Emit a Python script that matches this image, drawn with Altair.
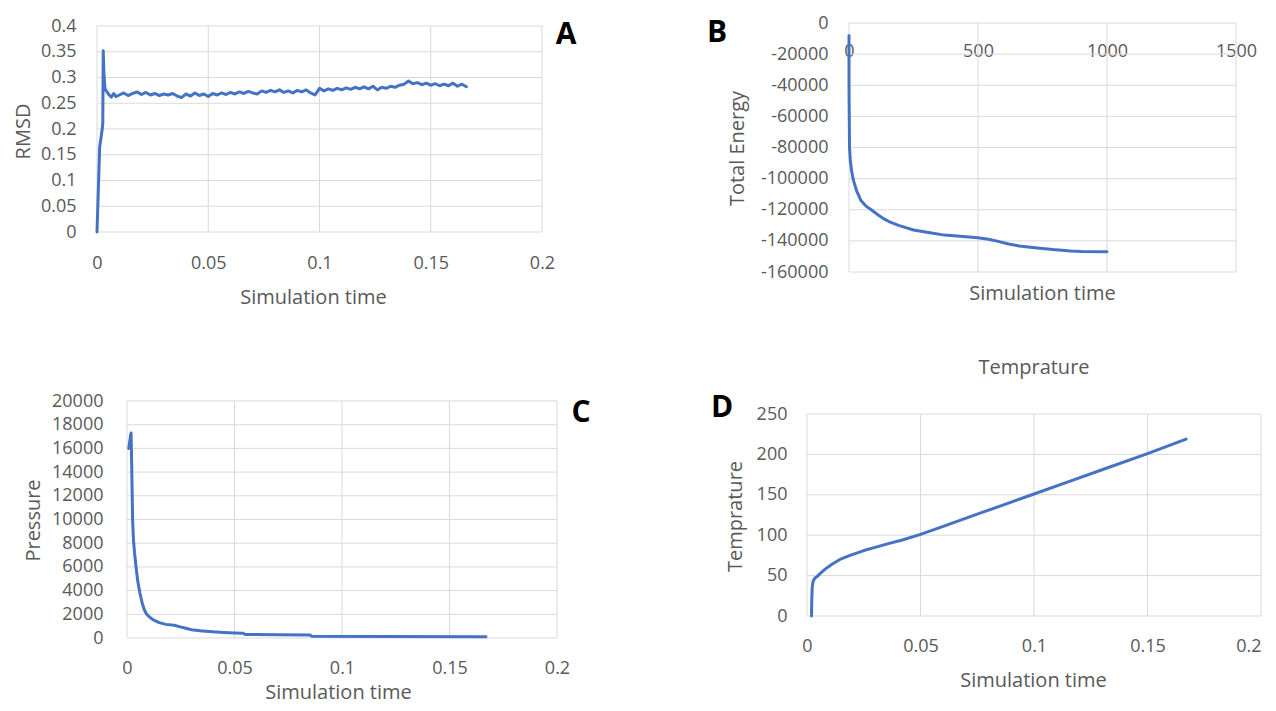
import altair as alt
import pandas as pd

# ---------------- data ----------------
# Panel A: RMSD
a_time = [0, 0.0012, 0.0022, 0.0026, 0.0028, 0.0031, 0.0036, 0.0045, 0.0055, 0.0065, 0.0075, 0.0085,
          0.010, 0.012, 0.014, 0.016, 0.018, 0.020, 0.022, 0.024, 0.026, 0.028,
          0.030, 0.032, 0.034, 0.036, 0.038, 0.040, 0.042, 0.044, 0.046, 0.048,
          0.050, 0.052, 0.054, 0.056, 0.058, 0.060, 0.062, 0.064, 0.066, 0.068,
          0.070, 0.072, 0.074, 0.076, 0.078, 0.080, 0.082, 0.084, 0.086, 0.088,
          0.090, 0.092, 0.094, 0.096, 0.098, 0.100, 0.102, 0.104, 0.106, 0.108,
          0.110, 0.112, 0.114, 0.116, 0.118, 0.120, 0.122, 0.124, 0.126, 0.128,
          0.130, 0.132, 0.134, 0.136, 0.138, 0.140, 0.142, 0.144, 0.146, 0.148,
          0.150, 0.152, 0.154, 0.156, 0.158, 0.160, 0.162, 0.164, 0.166]
a_rmsd = [0, 0.165, 0.195, 0.21, 0.352, 0.31, 0.278, 0.272, 0.266, 0.262, 0.269, 0.263,
          0.266, 0.270, 0.265, 0.269, 0.272, 0.267, 0.271, 0.266, 0.269, 0.265,
          0.268, 0.266, 0.269, 0.264, 0.261, 0.268, 0.264, 0.270, 0.265, 0.268,
          0.263, 0.269, 0.266, 0.270, 0.267, 0.271, 0.268, 0.272, 0.269, 0.273,
          0.270, 0.268, 0.274, 0.271, 0.275, 0.272, 0.276, 0.271, 0.274, 0.270,
          0.275, 0.272, 0.276, 0.270, 0.266, 0.279, 0.274, 0.278, 0.275, 0.279,
          0.276, 0.280, 0.277, 0.281, 0.278, 0.282, 0.278, 0.283, 0.276, 0.281,
          0.279, 0.283, 0.281, 0.285, 0.287, 0.293, 0.288, 0.290, 0.286, 0.289,
          0.285, 0.288, 0.284, 0.287, 0.284, 0.289, 0.283, 0.287, 0.282]

# Panel B: Total energy
b_time = [0, 0, 2, 5, 10, 17, 30, 46, 65, 90, 110, 134, 160, 192, 220, 250, 290, 320, 370,
          430, 500, 540, 570, 615, 660, 720, 790, 860, 900, 1000]
b_energy = [-8000, -40000, -80000, -88000, -95000, -101000, -108000, -114000, -117500, -120500,
            -123000, -125700, -128000, -130000, -131500, -133000, -134200, -135000, -136300,
            -137000, -138000, -139000, -140000, -141800, -143300, -144400, -145600, -146500,
            -146800, -147000]

# Panel C: Pressure
c_time = [0.0008, 0.0012, 0.0016, 0.0019, 0.0022, 0.0026, 0.003, 0.0035, 0.0042, 0.005, 0.006,
          0.007, 0.008, 0.009, 0.010, 0.012, 0.015, 0.018, 0.022, 0.026, 0.030, 0.035, 0.040,
          0.045, 0.050, 0.054, 0.055, 0.070, 0.085, 0.086, 0.120, 0.167]
c_pressure = [16000, 16500, 17000, 17300, 14500, 10000, 8300, 7200, 6000, 4800, 3800,
              3000, 2400, 2050, 1850, 1550, 1300, 1150, 1080, 880, 700, 600, 520,
              470, 430, 400, 300, 280, 260, 150, 130, 110]

# Panel D: Temperature
d_time = [0.0020, 0.0021, 0.0023, 0.0027, 0.0035, 0.0045, 0.006, 0.008, 0.011, 0.0145, 0.019,
          0.025, 0.030, 0.035, 0.042, 0.050, 0.060, 0.075, 0.090, 0.100, 0.115, 0.130, 0.150, 0.167]
d_temp = [0, 20, 36, 43, 47, 49, 53, 58, 64, 70, 75, 81, 85, 89, 94, 101, 111, 126, 141, 151,
          166, 181, 201, 219]

# tick labels
a_xticks = [0, 0.05, 0.1, 0.15, 0.2]
a_yticks = [0, 0.05, 0.1, 0.15, 0.2, 0.25, 0.3, 0.35, 0.4]
b_xticks = [0, 500, 1000, 1500]
b_yticks = [0, -20000, -40000, -60000, -80000, -100000, -120000, -140000, -160000]
c_xticks = [0, 0.05, 0.1, 0.15, 0.2]
c_yticks = [0, 2000, 4000, 6000, 8000, 10000, 12000, 14000, 16000, 18000, 20000]
d_xticks = [0, 0.05, 0.1, 0.15, 0.2]
d_yticks = [0, 50, 100, 150, 200, 250]

# ---------------- styling / layout ----------------
M = 8             # page margin
W, H = 1260, 695  # whole drawing area
FONT = "Open Sans"
BLUE = "#4472C4"
GRID = "#D9D9D9"
TXT = "#595959"
LFS = 18   # tick label size
TFS = 20   # title size


def x_axis(vals, axis_y, pad, title, tx, ty, last_right=False):
    align = "center"
    if last_right:
        align = {"condition": {"test": "datum.value >= 0.2", "value": "right"}, "value": "center"}
    return alt.Axis(
        orient="bottom", offset=(axis_y - M) - H, values=vals,
        labelExpr="datum.value + ''", grid=False, domain=False, ticks=False,
        labelPadding=pad, labelFont=FONT, labelFontSize=LFS, labelColor=TXT,
        labelFlush=False, labelOverlap=False, labelAlign=align,
        title=title, titleFont=FONT, titleFontSize=TFS,
        titleColor=TXT, titleFontWeight="normal", titleX=tx - M, titleY=ty - axis_y,
        titleBaseline="middle", titleAlign="center")


def y_axis(vals, axis_x, pad, title, tx, ty):
    return alt.Axis(
        orient="left", offset=-(axis_x - M), values=vals,
        labelExpr="datum.value + ''", grid=False, domain=False, ticks=False,
        labelPadding=pad, labelFont=FONT, labelFontSize=LFS, labelColor=TXT,
        labelFlush=False, labelOverlap=False, title=title, titleFont=FONT,
        titleFontSize=TFS, titleColor=TXT, titleFontWeight="normal",
        titleX=tx - axis_x, titleY=ty - M,
        titleBaseline="middle", titleAlign="center", titleAngle=270)


def panel(xs, ys, xdom, ydom, xvals, yvals, box, xax, yax):
    left, top, right, bottom = box
    xsc = alt.Scale(domain=xdom, range=[left - M, right - M], nice=False, zero=False)
    ysc = alt.Scale(domain=ydom, range=[bottom - M, top - M], nice=False, zero=False)
    hgrid = alt.Chart(pd.DataFrame({"v": yvals})).mark_rule(color=GRID, strokeWidth=1).encode(
        y=alt.Y("v:Q", scale=ysc, axis=None),
        x=alt.XDatum(xdom[0], type="quantitative", scale=xsc, axis=None),
        x2=alt.X2Datum(xdom[1]),
    )
    vgrid = alt.Chart(pd.DataFrame({"v": xvals})).mark_rule(color=GRID, strokeWidth=1).encode(
        x=alt.X("v:Q", scale=xsc, axis=None),
        y=alt.YDatum(ydom[0], type="quantitative", scale=ysc, axis=None),
        y2=alt.Y2Datum(ydom[1]),
    )
    line = alt.Chart(pd.DataFrame({"x": xs, "y": ys})).mark_line(
        color=BLUE, strokeWidth=3, strokeJoin="round", strokeCap="round").encode(
        x=alt.X("x:Q", scale=xsc, axis=xax),
        y=alt.Y("y:Q", scale=ysc, axis=yax),
    )
    return [hgrid, vgrid, line]


def label(text, px, py, size=30, bold=True, color="black"):
    return alt.Chart(pd.DataFrame({"t": [text]})).mark_text(
        font=FONT, fontSize=size, fontWeight="bold" if bold else "normal", color=color,
        align="center", baseline="middle").encode(
        x=alt.value(px - M), y=alt.value(py - M), text="t:N")


# panel boxes (page px): left, top, right, bottom
A_box = (97, 26, 542, 232)
B_box = (849, 23, 1236, 272)
C_box = (127, 401, 557, 638)
D_box = (807, 414, 1261, 616)

pA = panel(a_time, a_rmsd, [0, 0.2], [0, 0.4], a_xticks, a_yticks, A_box,
           x_axis(a_xticks, 232, 22, "Simulation time", 313, 297),
           y_axis(a_yticks, 97, 21, "RMSD", 23, 131))
pB = panel(b_time, b_energy, [0, 1500], [-160000, 0], b_xticks, b_yticks, B_box,
           x_axis(b_xticks, 23, 19, "Simulation time", 1042, 293),
           y_axis(b_yticks, 849, 21, "Total Energy", 737, 148))
pC = panel(c_time, c_pressure, [0, 0.2], [0, 20000], c_xticks, c_yticks, C_box,
           x_axis(c_xticks, 638, 21, "Simulation time", 338, 692),
           y_axis(c_yticks, 127, 24, "Pressure", 33, 520))
pD = panel(d_time, d_temp, [0, 0.2], [0, 250], d_xticks, d_yticks, D_box,
           x_axis(d_xticks, 616, 21, "Simulation time", 1033, 680, last_right=True),
           y_axis(d_yticks, 807, 20, "Temprature", 735, 516))

chart = alt.layer(
    *pA, *pB, *pC, *pD,
    label("A", 566, 35), label("B", 717, 33), label("C", 581, 413), label("D", 722, 408),
    label("Temprature", 1034, 368, size=TFS, bold=False, color=TXT),
).resolve_scale(x="independent", y="independent").resolve_axis(
    x="independent", y="independent"
).properties(
    width=W, height=H, autosize=alt.AutoSizeParams(type="none"), padding=0
).configure_view(stroke=None)

chart.save("out.html", embed_options={"renderer": "svg", "actions": False})
